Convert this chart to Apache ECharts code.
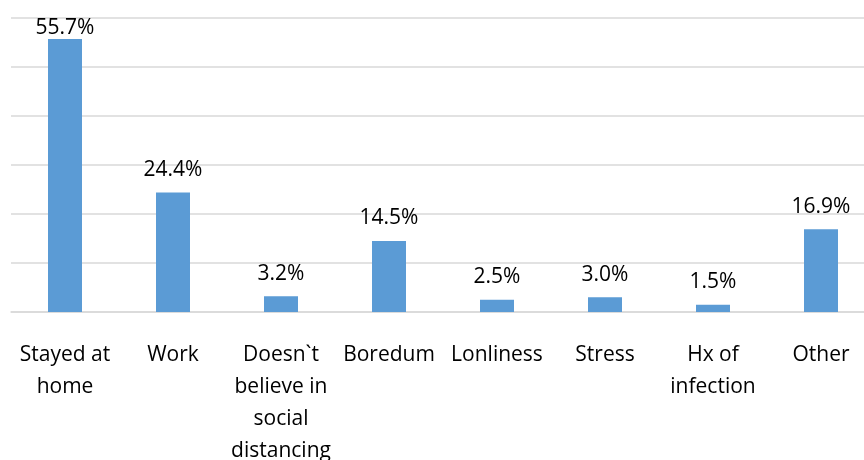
<!DOCTYPE html>
<html>
<head>
<meta charset="utf-8">
<script src="https://cdn.jsdelivr.net/npm/echarts@6/dist/echarts.min.js"></script>
<style>
  html, body { margin: 0; padding: 0; background: #fff; }
  #chart { width: 864px; height: 460px; }
</style>
</head>
<body>
<div id="chart"></div>
<script>
// Reasons reported for leaving home (percent of respondents)
const categories = [
  'Stayed at\nhome',
  'Work',
  'Doesn`t\nbelieve in\nsocial\ndistancing',
  'Boredum',
  'Lonliness',
  'Stress',
  'Hx of\ninfection',
  'Other'
];
const percentages = [55.7, 24.4, 3.2, 14.5, 2.5, 3.0, 1.5, 16.9];

const FONT = '"Open Sans"';
const Y_MAX = 60;

// Labels of bars reaching close to the top of the plot are tucked in
// so they stay inside the plot area.
const barData = percentages.map(v =>
  (Y_MAX - v) < 6 ? { value: v, label: { distance: 1 } } : v
);

const chart = echarts.init(document.getElementById('chart'), null, { renderer: 'canvas' });
chart.setOption({
  animation: false,
  backgroundColor: '#ffffff',
  grid: {
    left: 11, top: 18, width: 864, height: 294,
    containLabel: false,
    outerBoundsMode: 'none'
  },
  xAxis: {
    type: 'category',
    data: categories,
    axisLine: { show: true, lineStyle: { color: '#d9d9d9', width: 1.5 } },
    axisTick: { show: false },
    axisLabel: {
      interval: 0,
      margin: 27,
      color: '#000',
      fontFamily: FONT,
      fontSize: 21,
      lineHeight: 32,
      align: 'center'
    }
  },
  yAxis: {
    type: 'value',
    min: 0,
    max: Y_MAX,
    interval: 10,
    axisLabel: { show: false },
    axisLine: { show: false },
    axisTick: { show: false },
    splitLine: { lineStyle: { color: '#d9d9d9', width: 1.5 } }
  },
  series: [{
    type: 'bar',
    data: barData,
    barWidth: 34,
    itemStyle: { color: '#5b9bd5' },
    label: {
      show: true,
      position: 'top',
      distance: 12,
      color: '#000',
      fontFamily: FONT,
      fontSize: 21,
      formatter: p => p.value.toFixed(1) + '%'
    }
  }]
});
</script>
</body>
</html>
